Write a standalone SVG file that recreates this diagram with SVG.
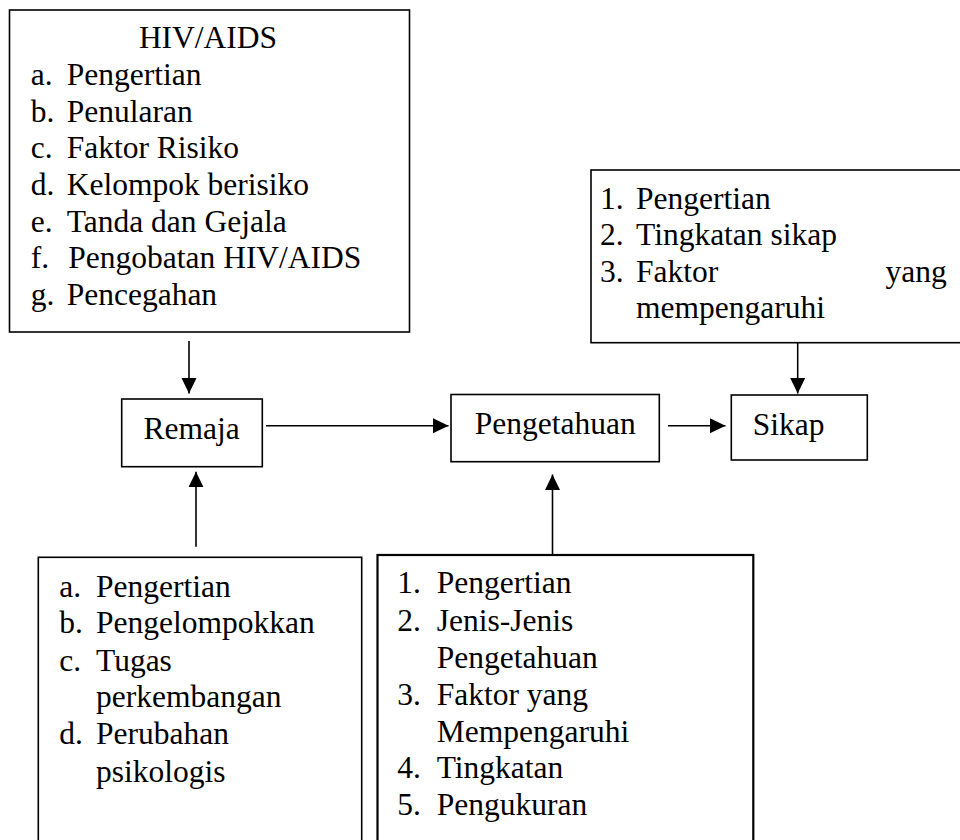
<svg xmlns="http://www.w3.org/2000/svg" width="960" height="840" viewBox="0 0 960 840" font-family="Liberation Serif, Times New Roman, Times, DejaVu Serif, serif">
  <style>
    .box { fill: #ffffff; stroke: #000000; stroke-width: 1.6; }
    .thick { stroke-width: 2.2; }
    .t { font-family: 'Liberation Serif', 'Times New Roman', Times, 'DejaVu Serif', serif; font-size: 31.5px; fill: #000000; }
    .c { text-anchor: middle; }
    .e { text-anchor: end; }
    .conn { stroke: #000000; stroke-width: 1.6; fill: none; marker-end: url(#arrow); }
  </style>
  <defs>
    <marker id="arrow" markerUnits="userSpaceOnUse" markerWidth="16" markerHeight="16" refX="15.5" refY="7.5" orient="auto" viewBox="0 0 16 15">
      <path d="M0,0 L15.5,7.5 L0,15 Z" fill="#000000"/>
    </marker>
  </defs>
  <rect width="960" height="840" fill="#ffffff"/>

  <g id="hiv-aids">
    <rect class="box" x="9.5" y="10" width="400" height="322"/>
    <text class="t c" x="208" y="48.3">HIV/AIDS</text>
    <text class="t" x="30.7" y="85">a.</text><text class="t" x="66.7" y="85">Pengertian</text>
    <text class="t" x="30.7" y="121.7">b.</text><text class="t" x="66.7" y="121.7">Penularan</text>
    <text class="t" x="30.7" y="158.3">c.</text><text class="t" x="66.7" y="158.3">Faktor Risiko</text>
    <text class="t" x="30.7" y="195">d.</text><text class="t" x="66.7" y="195">Kelompok berisiko</text>
    <text class="t" x="30.7" y="231.7">e.</text><text class="t" x="66.7" y="231.7">Tanda dan Gejala</text>
    <text class="t" x="30.7" y="268.3">f.</text><text class="t" x="68.3" y="268.3">Pengobatan HIV/AIDS</text>
    <text class="t" x="30.7" y="305">g.</text><text class="t" x="66.7" y="305">Pencegahan</text>
  </g>

  <g id="sikap-topics">
    <rect class="box" x="591" y="170" width="380" height="172.7"/>
    <text class="t" x="600" y="209.3">1.</text><text class="t" x="636" y="209.3">Pengertian</text>
    <text class="t" x="600" y="245">2.</text><text class="t" x="636" y="245">Tingkatan sikap</text>
    <text class="t" x="600" y="281.7">3.</text><text class="t" x="636" y="281.7">Faktor</text><text class="t e" x="946.7" y="281.7">yang</text>
    <text class="t" x="636" y="318">mempengaruhi</text>
  </g>

  <g id="remaja">
    <rect class="box" x="121.7" y="399" width="140.6" height="67.7"/>
    <text class="t c" x="191.7" y="439.3">Remaja</text>
  </g>

  <g id="pengetahuan">
    <rect class="box" x="451" y="394.5" width="208.3" height="67.2"/>
    <text class="t c" x="555.2" y="434">Pengetahuan</text>
  </g>

  <g id="sikap">
    <rect class="box" x="731.3" y="395" width="136" height="65"/>
    <text class="t" x="752.7" y="435">Sikap</text>
  </g>

  <g id="remaja-topics">
    <rect class="box" x="38.3" y="557.3" width="323.4" height="300"/>
    <text class="t" x="59.3" y="596.7">a.</text><text class="t" x="96" y="596.7">Pengertian</text>
    <text class="t" x="59.3" y="633.3">b.</text><text class="t" x="96" y="633.3">Pengelompokkan</text>
    <text class="t" x="59.3" y="670.7">c.</text><text class="t" x="96" y="670.7">Tugas</text>
    <text class="t" x="96" y="706.7">perkembangan</text>
    <text class="t" x="59.3" y="744">d.</text><text class="t" x="96" y="744">Perubahan</text>
    <text class="t" x="96" y="781.7">psikologis</text>
  </g>

  <g id="pengetahuan-topics">
    <rect class="box thick" x="377.5" y="555" width="375.8" height="300"/>
    <text class="t" x="397.3" y="593.3">1.</text><text class="t" x="436.7" y="593.3">Pengertian</text>
    <text class="t" x="397.3" y="630.7">2.</text><text class="t" x="436.7" y="630.7">Jenis-Jenis</text>
    <text class="t" x="436.7" y="667.7">Pengetahuan</text>
    <text class="t" x="397.3" y="705">3.</text><text class="t" x="436.7" y="705">Faktor yang</text>
    <text class="t" x="436.7" y="741.7">Mempengaruhi</text>
    <text class="t" x="397.3" y="778.3">4.</text><text class="t" x="436.7" y="778.3">Tingkatan</text>
    <text class="t" x="397.3" y="815">5.</text><text class="t" x="436.7" y="815">Pengukuran</text>
  </g>

  <g id="connectors">
    <line class="conn" x1="189" y1="341" x2="189" y2="393.5"/>
    <line class="conn" x1="266" y1="425.7" x2="448.5" y2="425.7"/>
    <line class="conn" x1="668" y1="425.7" x2="725.5" y2="425.7"/>
    <line class="conn" x1="797.7" y1="342.7" x2="797.7" y2="393.5"/>
    <line class="conn" x1="196" y1="546.7" x2="196" y2="471.7"/>
    <line class="conn" x1="552.5" y1="554" x2="552.5" y2="474.5"/>
  </g>
</svg>
